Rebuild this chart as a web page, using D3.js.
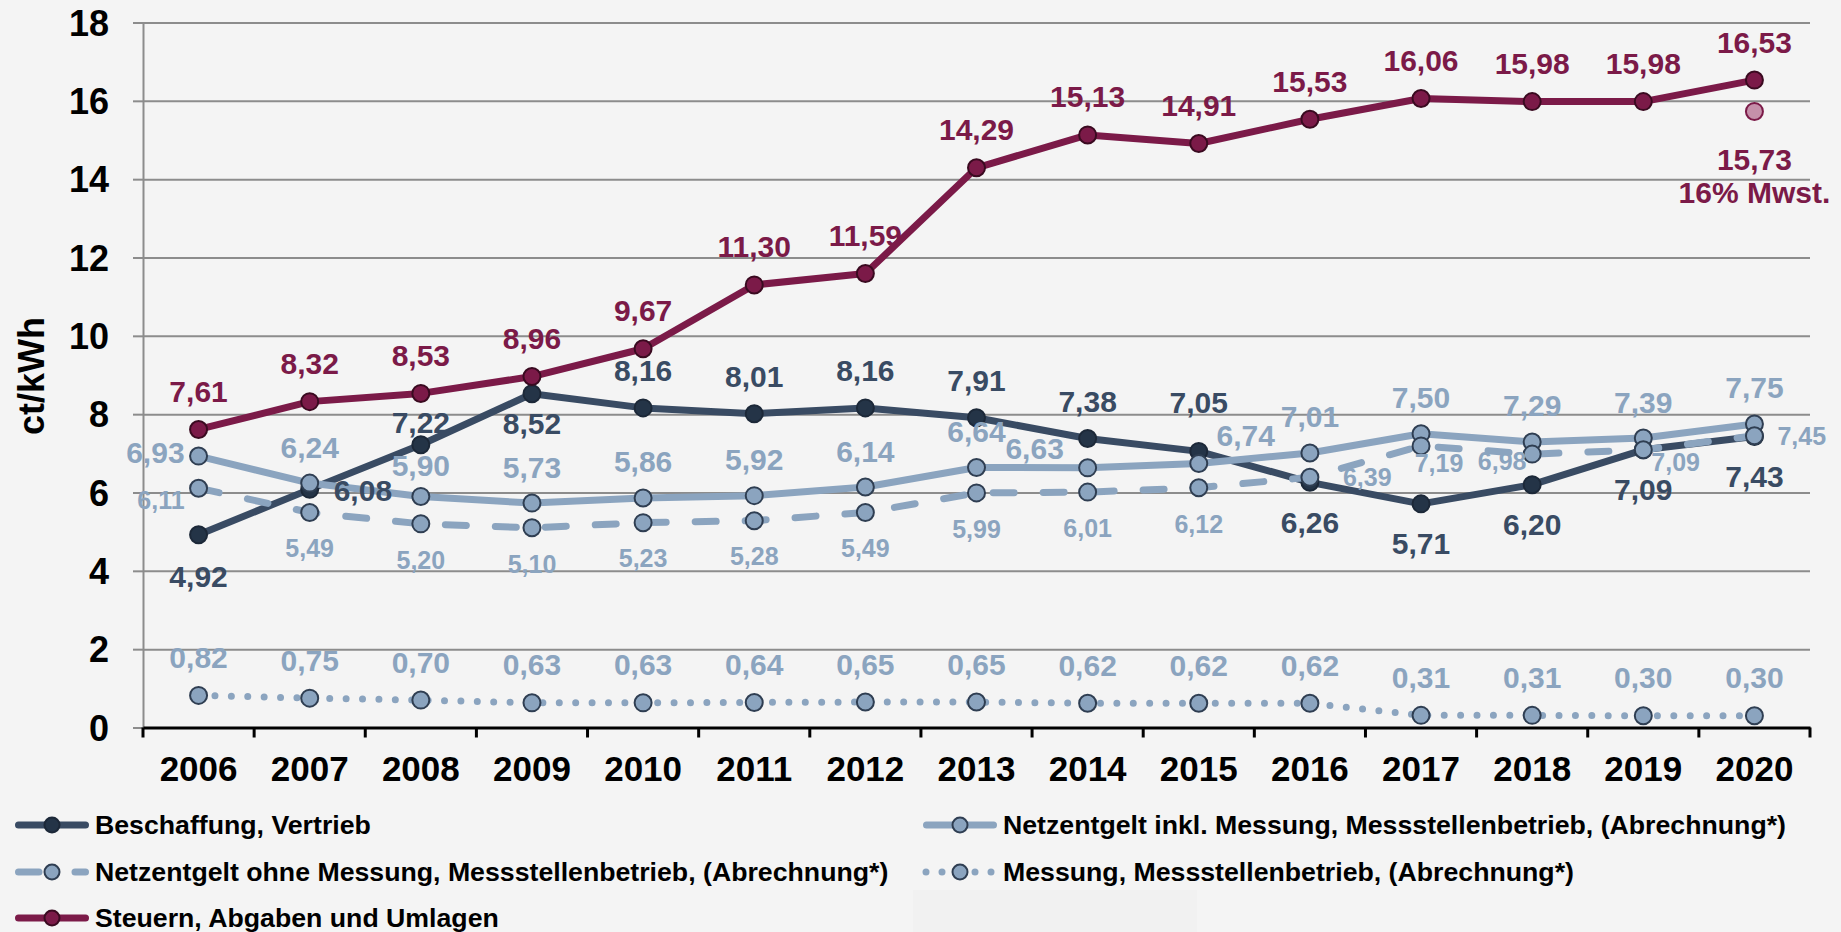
<!DOCTYPE html>
<html>
<head>
<meta charset="utf-8">
<script src="https://cdn.jsdelivr.net/npm/d3@7"></script>
<style>
  body { margin: 0; background: #f4f4f4; }
  text { font-family: "Liberation Sans", Arial, sans-serif; font-weight: bold; }
</style>
</head>
<body>
<script>
// data (ct/kWh)
const years = [2006, 2007, 2008, 2009, 2010, 2011, 2012, 2013, 2014, 2015, 2016, 2017, 2018, 2019, 2020];
const beschaffung = [4.92, 6.08, 7.22, 8.52, 8.16, 8.01, 8.16, 7.91, 7.38, 7.05, 6.26, 5.71, 6.20, 7.09, 7.43];
const netzInkl = [6.93, 6.24, 5.90, 5.73, 5.86, 5.92, 6.14, 6.64, 6.63, 6.74, 7.01, 7.50, 7.29, 7.39, 7.75];
const netzOhne = [6.11, 5.49, 5.20, 5.10, 5.23, 5.28, 5.49, 5.99, 6.01, 6.12, 6.39, 7.19, 6.98, 7.09, 7.45];
const messung = [0.82, 0.75, 0.70, 0.63, 0.63, 0.64, 0.65, 0.65, 0.62, 0.62, 0.62, 0.31, 0.31, 0.30, 0.30];
const steuern = [7.61, 8.32, 8.53, 8.96, 9.67, 11.30, 11.59, 14.29, 15.13, 14.91, 15.53, 16.06, 15.98, 15.98, 16.53];
const mwstYear = 2020, mwstValue = 15.73, mwstNote = "16% Mwst.";
const yTicks = [0, 2, 4, 6, 8, 10, 12, 14, 16, 18];

const W = 1841, H = 932;
const svg = d3.select("body").append("svg").attr("width", W).attr("height", H);
svg.append("rect").attr("width", W).attr("height", H).attr("fill", "#f4f4f4");
svg.append("rect").attr("x", 913).attr("y", 890).attr("width", 284).attr("height", 42).attr("fill", "#f1f1f1");

const x = d3.scaleBand().domain(years).range([143, 1810]).paddingInner(0).paddingOuter(0);
const cx = d => x(d) + x.bandwidth() / 2;
const y = d3.scaleLinear().domain([0, 18]).range([727.5, 22.5]);

const dark = "#394b63", light = "#8ba4bf", maroon = "#7b1a48";

// gridlines
svg.append("g").attr("transform", "translate(143,0)")
  .call(d3.axisLeft(y).tickValues(yTicks).tickSize(-(1810 - 143)).tickFormat(""))
  .call(g => g.select(".domain").remove())
  .call(g => g.selectAll("line").attr("stroke", "#8c8c8c").attr("stroke-width", 2));

// y axis
const ya = svg.append("g").attr("transform", "translate(143,0)")
  .call(d3.axisLeft(y).tickValues(yTicks).tickSize(10).tickPadding(24));
ya.select(".domain").attr("stroke", "#8c8c8c").attr("stroke-width", 2);
ya.selectAll("line").attr("stroke", "#8c8c8c").attr("stroke-width", 2);
ya.selectAll("text").attr("font-size", 36).attr("fill", "#000").attr("dy", "0.35em");

svg.append("text").attr("transform", "translate(31,376) rotate(-90)")
  .attr("text-anchor", "middle").attr("dy", "0.35em").attr("font-size", 36).text("ct/kWh");

// x axis
const xa = svg.append("g").attr("transform", "translate(0," + y(0) + ")")
  .call(d3.axisBottom(x).tickSize(0).tickPadding(0));
xa.select(".domain").attr("stroke", "#000").attr("stroke-width", 3);
xa.selectAll("text").attr("font-size", 35).attr("fill", "#000").attr("y", 41.5).attr("dy", "0.35em");
xa.selectAll(".bound").data(years.map(d => x(d)).concat([1810])).enter().append("line")
  .attr("x1", d => d).attr("x2", d => d).attr("y1", 0).attr("y2", 10)
  .attr("stroke", "#000").attr("stroke-width", 3);

// series
const series = [
  { name: "Beschaffung, Vertrieb", values: beschaffung, stroke: dark, dash: null, mFill: "#243447", mStroke: "#1c2838", lab: dark, fs: 30, dy: -37,
    over: { 0: [0, 42], 1: [24, 1, "start"], 2: [0, -22], 3: [0, 30], 9: [0, -49], 10: [0, 40], 11: [0, 40], 12: [0, 40], 13: [0, 40], 14: [0, 40] } },
  { name: "Netzentgelt inkl. Messung, Messstellenbetrieb, (Abrechnung*)", values: netzInkl, stroke: light, dash: null, mFill: light, mStroke: "#2f3e52", lab: light, fs: 30, dy: -36,
    over: { 0: [-14, -4, "end"], 2: [0, -31], 8: [-53, -19], 9: [47, -28] } },
  { name: "Netzentgelt ohne Messung, Messstellenbetrieb, (Abrechnung*)", values: netzOhne, stroke: light, dash: "21,29", mFill: light, mStroke: "#2f3e52", lab: light, fs: 25, dy: 36,
    over: { 0: [-14, 12, "end"], 10: [33, 0, "start"], 11: [18, 17], 12: [-30, 7], 13: [8, 12, "start"], 14: [23, 1, "start"] } },
  { name: "Messung, Messstellenbetrieb, (Abrechnung*)", values: messung, stroke: light, dash: "0,16.4", mFill: light, mStroke: "#2f3e52", lab: light, fs: 30, dy: -38, over: {} },
  { name: "Steuern, Abgaben und Umlagen", values: steuern, stroke: maroon, dash: null, mFill: maroon, mStroke: "#3a0a20", lab: maroon, fs: 30, dy: -38, over: {} }
];

const line = d3.line().x((d, i) => cx(years[i])).y(d => y(d));

series.forEach(s => {
  svg.append("path").attr("d", line(s.values)).attr("fill", "none")
    .attr("stroke", s.stroke).attr("stroke-width", 7)
    .attr("stroke-linecap", s.dash ? "round" : "butt").attr("stroke-linejoin", "round")
    .attr("stroke-dasharray", s.dash);
  svg.append("g").selectAll("circle").data(s.values).enter().append("circle")
    .attr("cx", (d, i) => cx(years[i])).attr("cy", d => y(d)).attr("r", 8.5)
    .attr("fill", s.mFill).attr("stroke", s.mStroke).attr("stroke-width", 2);
});

const fmt = v => v.toFixed(2).replace(".", ",");

series.forEach(s => {
  svg.append("g").selectAll("text").data(s.values).enter().append("text")
    .attr("x", (d, i) => cx(years[i]) + (s.over[i] ? s.over[i][0] : 0))
    .attr("y", (d, i) => y(d) + (s.over[i] ? s.over[i][1] : s.dy))
    .attr("dy", "0.35em")
    .attr("text-anchor", (d, i) => (s.over[i] && s.over[i][2]) || "middle")
    .attr("font-size", s.fs).attr("fill", s.lab)
    .text(fmt);
});

// 16% VAT point
svg.append("circle").attr("cx", cx(mwstYear)).attr("cy", y(mwstValue)).attr("r", 8.5)
  .attr("fill", "#c590aa").attr("stroke", maroon).attr("stroke-width", 2);
svg.append("text").attr("x", cx(mwstYear)).attr("y", y(mwstValue) + 48).attr("dy", "0.35em")
  .attr("text-anchor", "middle").attr("font-size", 30).attr("fill", maroon).text(fmt(mwstValue));
svg.append("text").attr("x", cx(mwstYear)).attr("y", y(mwstValue) + 81).attr("dy", "0.35em")
  .attr("text-anchor", "middle").attr("font-size", 30).attr("fill", maroon).text(mwstNote);

// legend
const legendPos = [[15, 825], [923, 825], [15, 872], [923, 872], [15, 918]];
series.forEach((s, i) => {
  const g = svg.append("g").attr("transform", "translate(" + legendPos[i][0] + "," + legendPos[i][1] + ")");
  if (s.dash === "21,29") {
    g.append("line").attr("x1", 3.5).attr("x2", 24).attr("stroke", s.stroke).attr("stroke-width", 7).attr("stroke-linecap", "round");
    g.append("line").attr("x1", 60).attr("x2", 70.5).attr("stroke", s.stroke).attr("stroke-width", 7).attr("stroke-linecap", "round");
  } else if (s.dash) {
    g.selectAll(".dot").data([3, 19, 52, 68]).enter().append("circle")
      .attr("cx", d => d).attr("r", 3.5).attr("fill", s.stroke);
  } else {
    g.append("line").attr("x1", 3.5).attr("x2", 70.5).attr("stroke", s.stroke).attr("stroke-width", 7).attr("stroke-linecap", "round");
  }
  g.append("circle").attr("cx", 37).attr("r", 7.5).attr("fill", s.mFill).attr("stroke", s.mStroke).attr("stroke-width", 2);
  g.append("text").attr("x", 80).attr("dy", "0.35em").attr("font-size", 26.7).attr("fill", "#000").text(s.name);
});
</script>
</body>
</html>
